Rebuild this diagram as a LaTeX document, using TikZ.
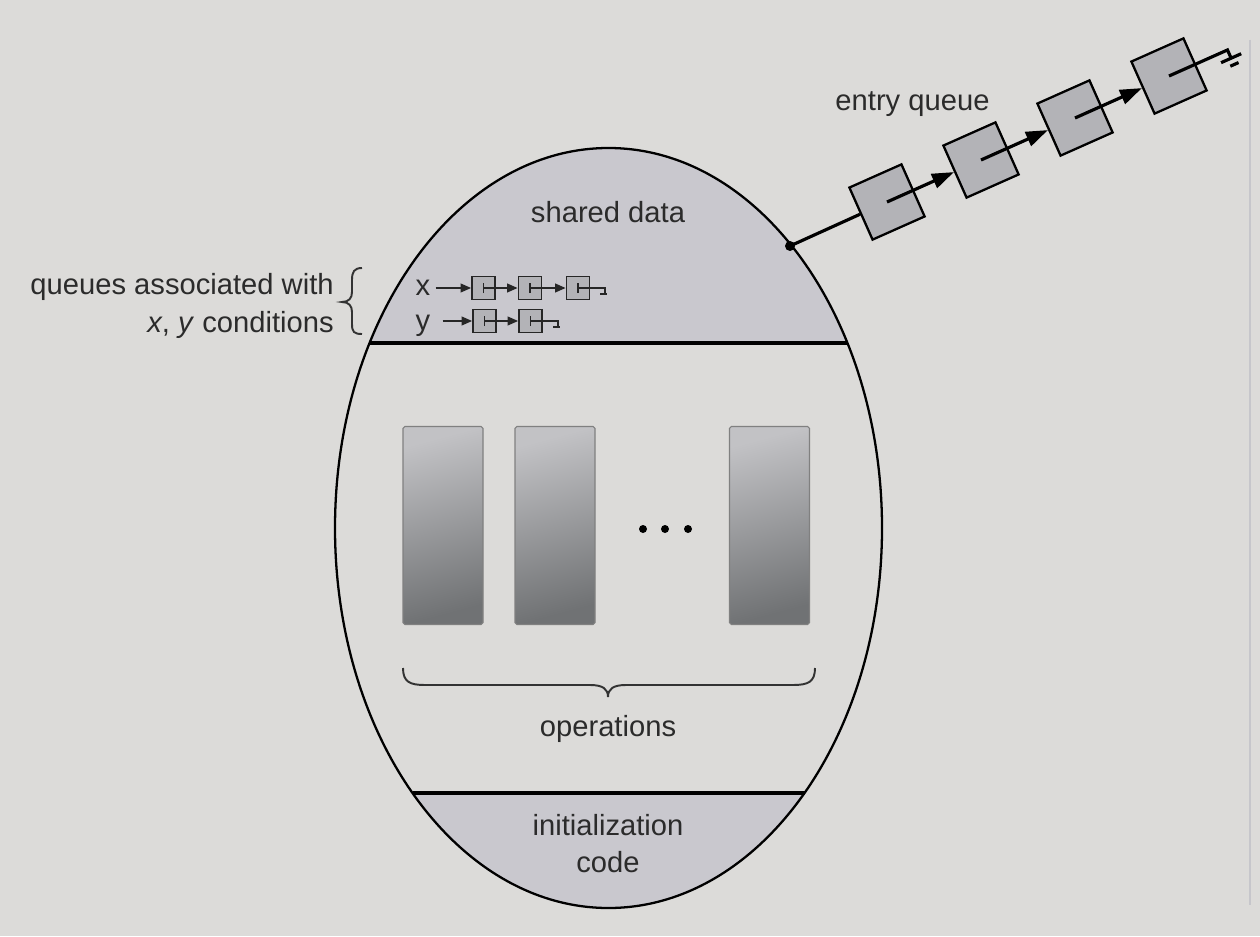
\documentclass[tikz,border=0pt]{standalone}
\usepackage{fontspec}
\setmainfont{Liberation Sans}
\usetikzlibrary{arrows.meta,calc}
\definecolor{bgc}{HTML}{DCDBD9}
\definecolor{capc}{HTML}{C9C8CE}
\definecolor{boxc}{HTML}{B3B3B7}
\definecolor{txtc}{HTML}{2B2B2B}
\definecolor{opTop}{HTML}{C2C2C5}
\definecolor{opBot}{HTML}{707274}
\definecolor{edgec}{HTML}{C6C6CB}
\begin{document}
\begin{tikzpicture}[x=0.02cm,y=0.02cm,
  lbl/.style={text=txtc,font=\fontsize{16.6}{21}\selectfont,inner sep=0pt},
  eqbox/.style={draw=black,line width=1.3pt,fill=boxc,minimum size=1.14cm,rotate=24,inner sep=0pt},
  eqline/.style={line width=1.8pt,black},
  eqarrow/.style={eqline,-{Triangle[length=12.5pt,width=8.5pt]}},
  qbox/.style={draw=black!85,line width=1pt,fill=boxc,minimum size=0.46cm,inner sep=0pt},
  qline/.style={line width=1pt,black!85},
  qarrow/.style={qline,-{Triangle[length=6pt,width=5pt]}},
  oprect/.style={draw=black!50,line width=0.6pt,rounded corners=1pt,minimum width=1.6cm,minimum height=3.96cm,inner sep=0pt,top color=opTop,bottom color=opBot,shading angle=15},
  outline/.style={line width=1.3pt,black},
  divider/.style={line width=1.8pt,black},
  bracestyle/.style={line width=1.1pt,black!80}]
\useasboundingbox (0,0) rectangle (1260,-936);
\fill[bgc] (0,0) rectangle (1260,-936);
\draw[edgec,line width=1.2pt] (1250,-40) -- (1250,-905);

% monitor body
\begin{scope}
  \clip (608.5,-528) ellipse [x radius=273.5, y radius=380];
  \fill[capc] (300,-100) rectangle (900,-343);
  \fill[capc] (300,-793) rectangle (900,-950);
\end{scope}
\draw[outline] (608.5,-528) ellipse [x radius=273.5, y radius=380];
\draw[divider] (369.5,-343) -- (847.5,-343);
\draw[divider] (412.5,-793) -- (804.5,-793);

% labels inside
\node[lbl,anchor=base] (sd) at (608,-222) {shared data};
\node[lbl,anchor=base] (ops) at (608,-736) {operations};
\node[lbl,anchor=base] (ini) at (608,-835) {initialization};
\node[lbl,anchor=base] (code) at (608,-872) {code};

% operations
\node[oprect] (op1) at (443,-525.5) {};
\node[oprect] (op2) at (555,-525.5) {};
\node[oprect] (op3) at (769.5,-525.5) {};
\foreach \xx in {643,665,688} \fill (\xx,-529) circle (4);
\draw[bracestyle] (403,-668) .. controls (403,-682) and (410,-685) .. (425,-685) -- (590,-685)
  .. controls (603,-685) and (608,-689) .. (608,-697)
  .. controls (608,-689) and (613,-685) .. (626,-685) -- (793,-685)
  .. controls (808,-685) and (815,-682) .. (815,-668);

% condition queues
\node[lbl,anchor=base] (xl) at (423,-295) {x};
\node[lbl,anchor=base] (yl) at (423,-330) {y};
\node[qbox] (xb1) at (483.5,-288) {};
\node[qbox] (xb2) at (530,-288) {};
\node[qbox] (xb3) at (578,-288) {};
\node[qbox] (yb1) at (484.5,-321) {};
\node[qbox] (yb2) at (530.5,-321) {};
\draw[qarrow] ($(xl.east |- xb1.west)+(5,0)$) -- (xb1.west);
\draw[qarrow] ($(yl.east |- yb1.west)+(12,0)$) -- (yb1.west);
\foreach \a/\b in {xb1/xb2,xb2/xb3,yb1/yb2} {
  \draw[qline] ($(\a.center)+(0,-5)$) -- ($(\a.center)+(0,5)$);
  \draw[qarrow] (\a.center) -- (\b.west);
}
\foreach \a in {xb3,yb2} \draw[qline] ($(\a.center)+(0,-5)$) -- ($(\a.center)+(0,5)$);
\coordinate (xe) at (605,-288);
\coordinate (ye) at (558,-321);
\draw[qline] (xb3.center) -- (xe) -- ++(0,-5);
\draw[qline] ($(xe)+(-5,-6)$) -- ++(7,0);
\draw[qline] (yb2.center) -- (ye) -- ++(0,-5);
\draw[qline] ($(ye)+(-5,-6)$) -- ++(7,0);

% brace and left label
\draw[bracestyle] (362,-268) .. controls (354,-268) and (352,-272) .. (352,-280) -- (352,-292)
  .. controls (352,-298) and (349,-302) .. (342,-302)
  .. controls (349,-302) and (352,-306) .. (352,-312) -- (352,-324)
  .. controls (352,-332) and (354,-334) .. (362,-334);
\node[lbl,anchor=base east] (q1) at (334,-294) {queues associated with};
\node[lbl,anchor=base east] (q2) at (334,-332) {\textit{x}, \textit{y} conditions};

% entry queue
\node[lbl,anchor=base] (eq) at (912.5,-111) {entry queue};
\node[circle,fill=black,inner sep=0pt,minimum size=0.2cm] (dot) at (790,-246) {};
\node[eqbox] (b1) at (887,-202) {};
\node[eqbox] (b2) at (981,-160) {};
\node[eqbox] (b3) at (1075,-118) {};
\node[eqbox] (b4) at (1169,-76) {};
\draw[eqline] (dot.center) -- (b1);
\draw[eqarrow] (b1.center) -- (b2);
\draw[eqarrow] (b2.center) -- (b3);
\draw[eqarrow] (b3.center) -- (b4);
\coordinate (eqend) at ($(b4.center)+(24:64)$);
\draw[eqline] (b4.center) -- (eqend) -- ($(eqend)+(-66:9)$);
\draw[eqline] ($(eqend)+(-66:9)+(24:-11)$) -- ($(eqend)+(-66:9)+(24:11)$);
\draw[eqline] ($(eqend)+(-66:16)+(24:-4)$) -- ($(eqend)+(-66:16)+(24:5)$);
\end{tikzpicture}
\end{document}
